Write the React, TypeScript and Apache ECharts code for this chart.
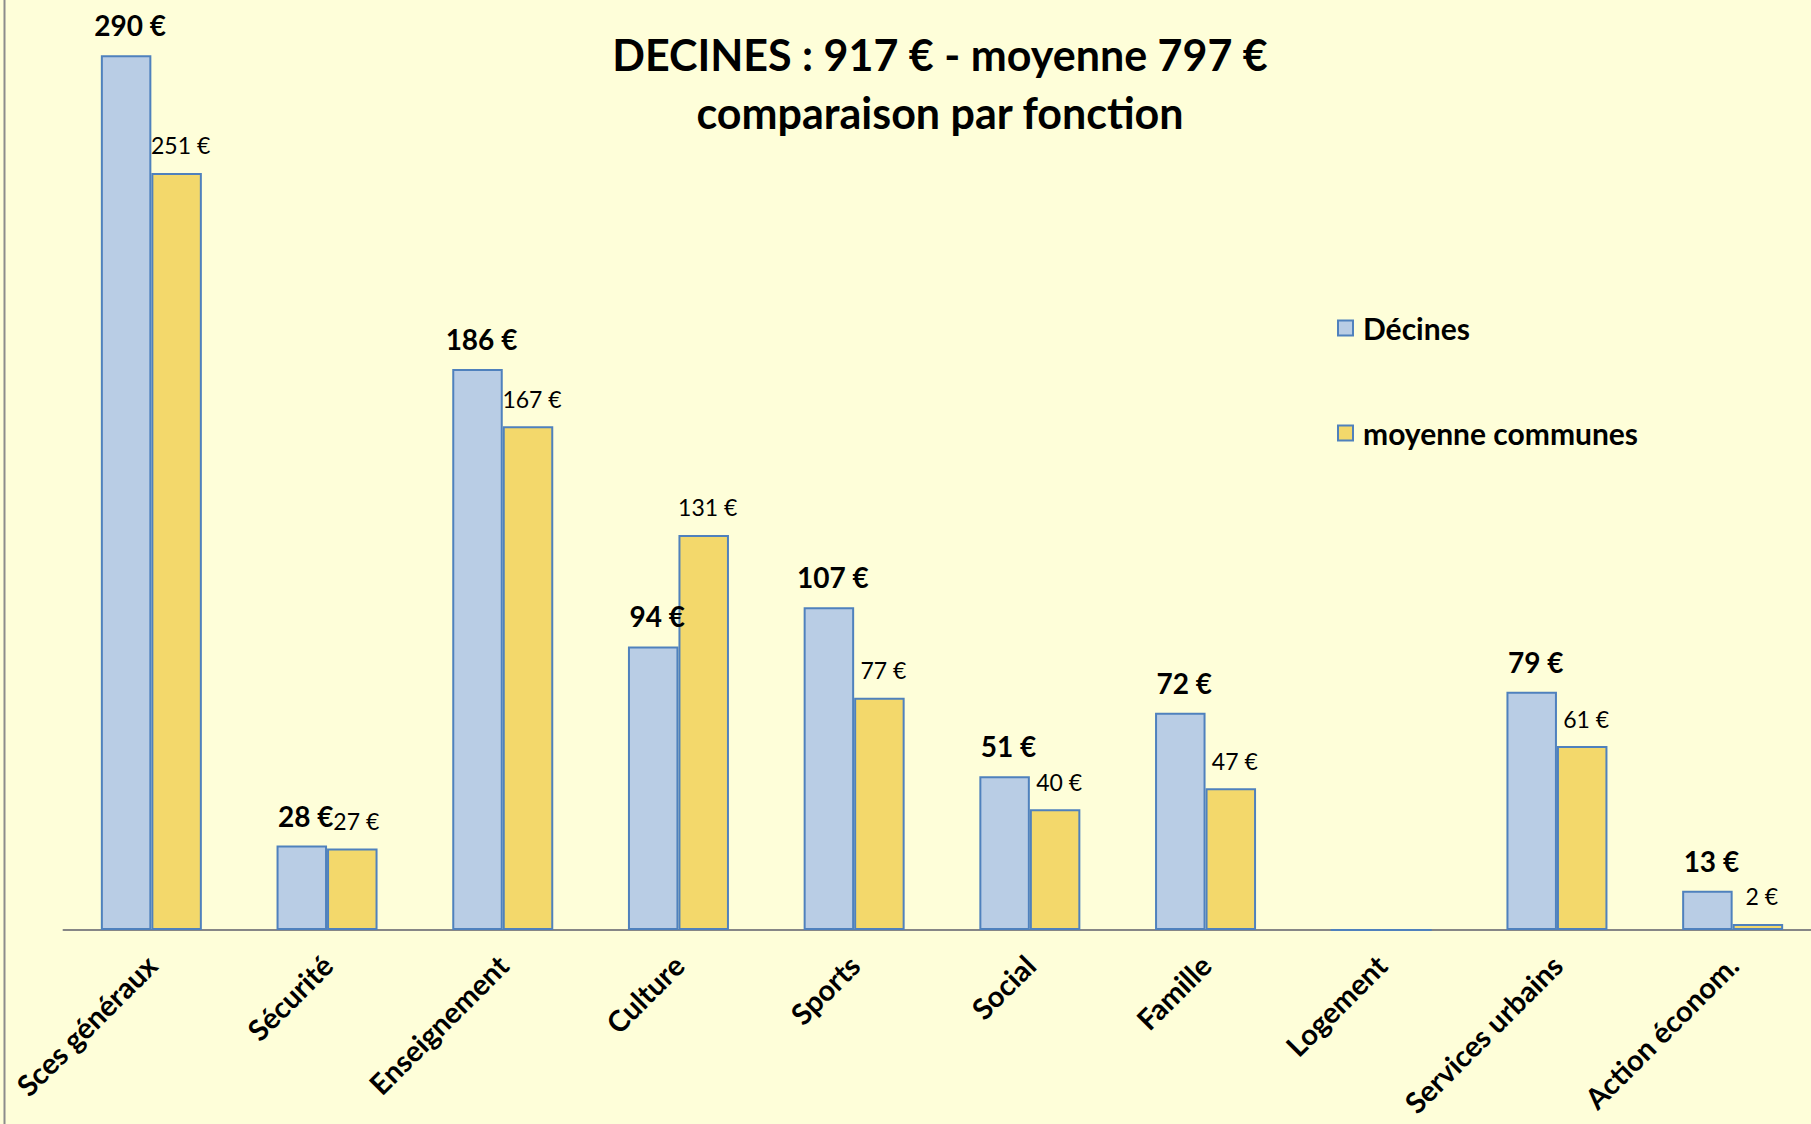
import React, { useEffect, useRef } from "react";
import * as echarts from "echarts";

const categories = [
  "Sces généraux",
  "Sécurité",
  "Enseignement",
  "Culture",
  "Sports",
  "Social",
  "Famille",
  "Logement",
  "Services urbains",
  "Action économ.",
];
const decinesValues = [290, 28, 186, 94, 107, 51, 72, 0, 79, 13];
const moyenneValues = [251, 27, 167, 131, 77, 40, 47, 0, 61, 2];
const seriesNames = ["Décines", "moyenne communes"];
const titleText = "DECINES : 917 € - moyenne 797 €\ncomparaison par fonction";

const FONT = "Lato";
const BLUE = "#B9CDE5";
const YELLOW = "#F3D86B";
const BORDER = "#4F81BD";

export default function App() {
  const ref = useRef<HTMLDivElement>(null);
  useEffect(() => {
    document.body.style.margin = "0";
    const chart = echarts.init(ref.current!, undefined, { renderer: "svg" });
    const fmt = (p: any) => (p.value === 0 ? "" : `${p.value} €`);
    const legendText = { fontFamily: FONT, fontSize: 30, fontWeight: "bold", color: "#000", padding: [0, 0, 0, 5] };
    chart.setOption({
      animation: false,
      backgroundColor: "#FEFED9",
      title: {
        text: titleText,
        left: 940,
        top: 25,
        padding: 0,
        textAlign: "center",
        textStyle: {
          fontFamily: FONT,
          fontSize: 43,
          fontWeight: "bold",
          lineHeight: 58,
          color: "#000",
        },
      },
      legend: [
        {
          data: [seriesNames[0]],
          left: 1337,
          top: 313,
          padding: 0,
          itemWidth: 15,
          itemHeight: 15,
          icon: "rect",
          textStyle: legendText,
        },
        {
          data: [seriesNames[1]],
          left: 1337,
          top: 418,
          padding: 0,
          itemWidth: 15,
          itemHeight: 15,
          icon: "rect",
          textStyle: legendText,
        },
      ],
      grid: {
        left: 63.5,
        width: 1757,
        top: 25.2,
        bottom: 194,
        containLabel: false,
        outerBoundsMode: "none",
      },
      xAxis: {
        type: "category",
        data: categories,
        axisLine: { lineStyle: { color: "#868686", width: 2 } },
        axisTick: { length: 9, lineStyle: { color: "#868686", width: 2 } },
        axisLabel: {
          interval: 0,
          rotate: 45,
          margin: 30,
          fontFamily: FONT,
          fontSize: 29,
          fontWeight: "bold",
          color: "#000",
        },
      },
      yAxis: {
        type: "value",
        min: 0,
        max: 300,
        show: false,
        splitLine: { show: false },
      },
      graphic: [
        {
          type: "line",
          shape: { x1: 4.5, y1: 0, x2: 4.5, y2: 1124 },
          style: { stroke: "#8C8C8C", lineWidth: 2 },
          z: 100,
        },
      ],
      series: [
        {
          name: seriesNames[0],
          type: "bar",
          data: decinesValues,
          barWidth: 50.5,
          barGap: "0%",
          itemStyle: { color: BLUE, borderColor: BORDER, borderWidth: 2 },
          label: {
            show: true,
            position: "top",
            distance: 16,
            offset: [4, 0],
            formatter: fmt,
            fontFamily: FONT,
            fontSize: 28,
            fontWeight: "bold",
            color: "#000",
          },
        },
        {
          name: seriesNames[1],
          type: "bar",
          data: moyenneValues,
          barWidth: 50.5,
          barGap: "0%",
          itemStyle: { color: YELLOW, borderColor: BORDER, borderWidth: 2 },
          label: {
            show: true,
            position: "top",
            distance: 16,
            offset: [4, 0],
            formatter: fmt,
            fontFamily: FONT,
            fontSize: 23,
            color: "#000",
          },
        },
      ],
    });
    return () => chart.dispose();
  }, []);
  return <div ref={ref} style={{ width: 1811, height: 1124 }} />;
}
